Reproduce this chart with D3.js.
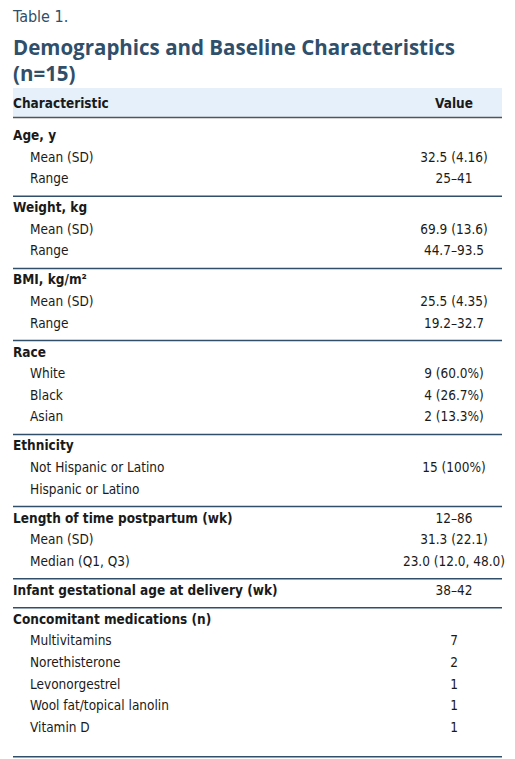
<!DOCTYPE html><html><head><meta charset="utf-8"><script src="https://cdn.jsdelivr.net/npm/d3@7"></script>
<style>body{margin:0;background:#fff} text.t{font-family:'DejaVu Sans',sans-serif;font-stretch:condensed}</style></head><body><svg id="c" width="515" height="759"></svg>
<script>
const groups = ["Age, y","Weight, kg","BMI, kg/m²","Race","Ethnicity","Length of time postpartum (wk)","Infant gestational age at delivery (wk)","Concomitant medications (n)"];
const groupValues = ["","","","","","12–86","38–42",""];
const subLabels = [["Mean (SD)","Range"],["Mean (SD)","Range"],["Mean (SD)","Range"],["White","Black","Asian"],["Not Hispanic or Latino","Hispanic or Latino"],["Mean (SD)","Median (Q1, Q3)"],[],["Multivitamins","Norethisterone","Levonorgestrel","Wool fat/topical lanolin","Vitamin D"]];
const subValues = [["32.5 (4.16)","25–41"],["69.9 (13.6)","44.7–93.5"],["25.5 (4.35)","19.2–32.7"],["9 (60.0%)","4 (26.7%)","2 (13.3%)"],["15 (100%)",""],["31.3 (22.1)","23.0 (12.0, 48.0)"],[],["7","2","1","1","1"]];

const svg = d3.select("#c");
const dark = "#2f4f6b", text = "#1a1a1a";
const x = d3.scaleLinear().domain([0,1]).range([13,502]);
const valX = 454;
function t(xx,yy,s,opt={}){
  const e = svg.append("text").attr("class","t").attr("x",xx).attr("y",yy).attr("font-size",opt.size||13.5).attr("fill",opt.fill||text).text(s);
  if(opt.bold) e.attr("font-weight",700);
  if(opt.mid) e.attr("text-anchor","middle");
  return e;
}
t(13,22,"Table 1.",{size:16,fill:dark});
svg.append("text").attr("x",13).attr("y",55).attr("fill",dark).attr("font-family","'Open Sans',sans-serif").attr("font-weight",700).attr("font-size",20.5).text("Demographics and Baseline Characteristics");
svg.append("text").attr("x",13).attr("y",81).attr("fill",dark).attr("font-family","'Open Sans',sans-serif").attr("font-weight",700).attr("font-size",20.5).text("(n=15)");

svg.append("rect").attr("x",x(0)).attr("y",88).attr("width",x(1)-x(0)).attr("height",29).attr("fill","#e5f0fa");
svg.append("line").attr("x1",x(0)).attr("x2",x(1)).attr("y1",117.5).attr("y2",117.5).attr("stroke","#555").attr("stroke-width",1.5);
t(13,108,"Characteristic",{bold:true});
t(valX,108,"Value",{bold:true,mid:true});

const rowH = 21.6;
let y = 140;
groups.forEach((g,i)=>{
  t(13,y,g,{bold:true});
  if(groupValues[i]) t(valX,y,groupValues[i],{mid:true});
  subLabels[i].forEach((s,j)=>{
    y += rowH;
    t(30,y,s);
    t(valX,y,subValues[i][j],{mid:true});
  });
  const ly = i===groups.length-1 ? y+25 : y+13;
  svg.append("line").attr("x1",x(0)).attr("x2",x(1)).attr("y1",ly).attr("y2",ly).attr("stroke",dark).attr("stroke-width",1.5);
  y = ly + 16;
});
</script></body></html>
